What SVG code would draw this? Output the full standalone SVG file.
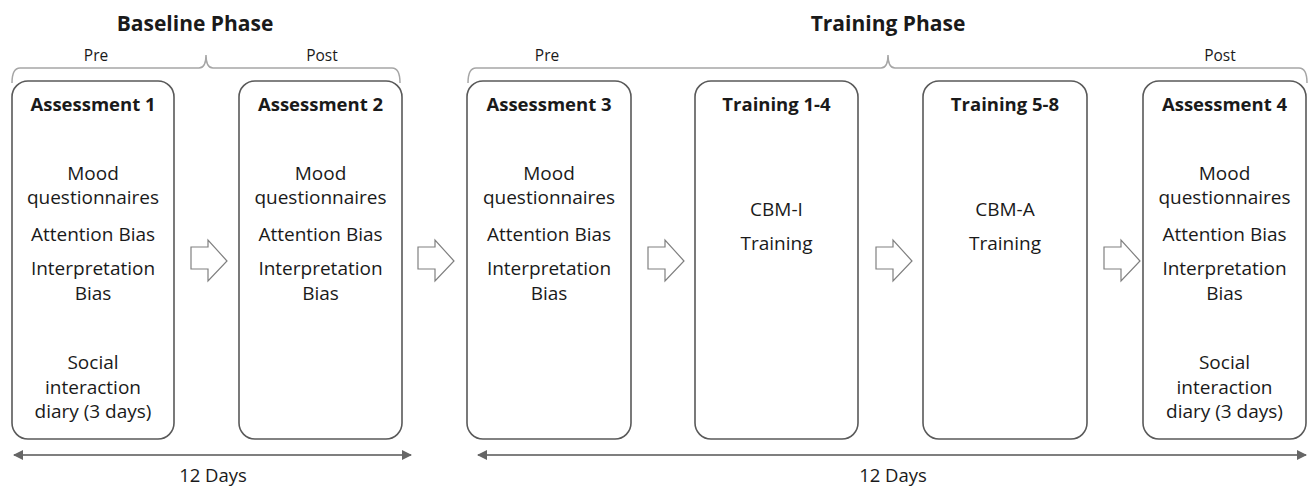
<svg xmlns="http://www.w3.org/2000/svg" width="1309" height="489" viewBox="0 0 1309 489">
<style>
  .box { fill: #ffffff; stroke: #595959; stroke-width: 1.6; }
  .brace { fill: none; stroke: #a6a6a6; stroke-width: 1.5; }
  .blk { fill: #ffffff; stroke: #808080; stroke-width: 1.2; stroke-linejoin: miter; }
  .dur { stroke: #7f7f7f; stroke-width: 2; fill: none; }
  text { font-family: "Open Sans", "Noto Sans", "Liberation Sans", sans-serif; fill: #1a1a1a; text-anchor: middle; }
  .phase { font-size: 21px; font-weight: bold; }
  .sub { font-size: 15.5px; }
  .head { font-size: 18.5px; font-weight: bold; }
  .item { font-size: 19px; }
  .days { font-size: 18.5px; }
</style>
<defs>
  <marker id="ah" viewBox="0 0 10 10" refX="9" refY="5" markerWidth="5" markerHeight="5" orient="auto-start-reverse" markerUnits="strokeWidth">
    <path d="M0,0 L10,5 L0,10 Z" fill="#666666"/>
  </marker>
</defs>

<g id="headers">
  <text class="phase" x="195" y="31">Baseline Phase</text>
  <text class="phase" x="888" y="31">Training Phase</text>
  <text class="sub" x="96" y="61">Pre</text>
  <text class="sub" x="322" y="61">Post</text>
  <text class="sub" x="547" y="61">Pre</text>
  <text class="sub" x="1220" y="61">Post</text>
</g>

<g id="braces">
  <path class="brace" d="M12,83 Q12,68 20,68 L199,68 Q206,68 206,55 Q206,68 213,68 L392,68 Q400,68 400,83"/>
  <path class="brace" d="M468,83 Q468,68 476,68 L881,68 Q888,68 888,55 Q888,68 895,68 L1299,68 Q1307,68 1307,83"/>
</g>

<g id="assessment1">
  <rect class="box" x="12" y="81" width="162" height="358" rx="16"/>
  <text class="head" x="93" y="111">Assessment 1</text>
  <text class="item" x="93" y="180">Mood</text>
  <text class="item" x="93" y="204">questionnaires</text>
  <text class="item" x="93" y="241">Attention Bias</text>
  <text class="item" x="93" y="275">Interpretation</text>
  <text class="item" x="93" y="300">Bias</text>
  <text class="item" x="93" y="369">Social</text>
  <text class="item" x="93" y="394">interaction</text>
  <text class="item" x="93" y="418">diary (3 days)</text>
</g>

<g id="assessment2">
  <rect class="box" x="239" y="81" width="163" height="358" rx="16"/>
  <text class="head" x="320.5" y="111">Assessment 2</text>
  <text class="item" x="320.5" y="180">Mood</text>
  <text class="item" x="320.5" y="204">questionnaires</text>
  <text class="item" x="320.5" y="241">Attention Bias</text>
  <text class="item" x="320.5" y="275">Interpretation</text>
  <text class="item" x="320.5" y="300">Bias</text>
</g>

<g id="assessment3">
  <rect class="box" x="467" y="81" width="164" height="358" rx="16"/>
  <text class="head" x="549" y="111">Assessment 3</text>
  <text class="item" x="549" y="180">Mood</text>
  <text class="item" x="549" y="204">questionnaires</text>
  <text class="item" x="549" y="241">Attention Bias</text>
  <text class="item" x="549" y="275">Interpretation</text>
  <text class="item" x="549" y="300">Bias</text>
</g>

<g id="training14">
  <rect class="box" x="695" y="81" width="163" height="358" rx="16"/>
  <text class="head" x="776.5" y="111">Training 1-4</text>
  <text class="item" x="776.5" y="216">CBM-I</text>
  <text class="item" x="776.5" y="250">Training</text>
</g>

<g id="training58">
  <rect class="box" x="923" y="81" width="164" height="358" rx="16"/>
  <text class="head" x="1005" y="111">Training 5-8</text>
  <text class="item" x="1005" y="216">CBM-A</text>
  <text class="item" x="1005" y="250">Training</text>
</g>

<g id="assessment4">
  <rect class="box" x="1143" y="81" width="163" height="358" rx="16"/>
  <text class="head" x="1224.5" y="111">Assessment 4</text>
  <text class="item" x="1224.5" y="180">Mood</text>
  <text class="item" x="1224.5" y="204">questionnaires</text>
  <text class="item" x="1224.5" y="241">Attention Bias</text>
  <text class="item" x="1224.5" y="275">Interpretation</text>
  <text class="item" x="1224.5" y="300">Bias</text>
  <text class="item" x="1224.5" y="369">Social</text>
  <text class="item" x="1224.5" y="394">interaction</text>
  <text class="item" x="1224.5" y="418">diary (3 days)</text>
</g>

<g id="connectors">
  <path class="blk" d="M191,247 L208,247 L208,240 L227,261 L208,281 L208,269 L191,269 Z"/>
  <path class="blk" d="M418,247 L435,247 L435,240 L454,261 L435,281 L435,269 L418,269 Z"/>
  <path class="blk" d="M648,247 L665,247 L665,240 L684,261 L665,281 L665,269 L648,269 Z"/>
  <path class="blk" d="M876,247 L893,247 L893,240 L912,261 L893,281 L893,269 L876,269 Z"/>
  <path class="blk" d="M1104,247 L1121,247 L1121,240 L1140,261 L1121,281 L1121,269 L1104,269 Z"/>
</g>

<g id="durations">
  <line class="dur" x1="14" y1="455" x2="411" y2="455" marker-start="url(#ah)" marker-end="url(#ah)"/>
  <line class="dur" x1="478" y1="455" x2="1306" y2="455" marker-start="url(#ah)" marker-end="url(#ah)"/>
  <text class="days" x="213" y="482">12 Days</text>
  <text class="days" x="893" y="482">12 Days</text>
</g>
</svg>
